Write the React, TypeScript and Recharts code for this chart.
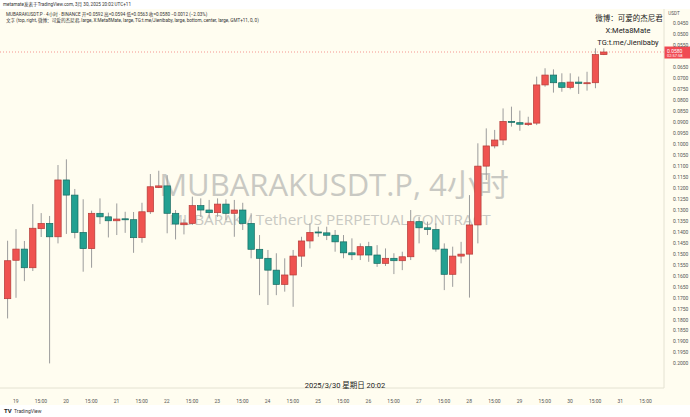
import React from 'react';
import { ComposedChart, Bar, XAxis, YAxis, ReferenceLine } from 'recharts';

// MUBARAKUSDT.P perpetual, 4h bars from 18 Mar 23:00 to 30 Mar 19:00 (UTC+11)
const opens = [
  0.1704, 0.1529, 0.1478, 0.1563, 0.1385, 0.1361, 0.1422, 0.1163, 0.1232, 0.1402,
  0.1476, 0.1315, 0.1331, 0.1349, 0.1340, 0.1344, 0.1426, 0.1308, 0.1198, 0.1190,
  0.1315, 0.1367, 0.1361, 0.1280, 0.1300, 0.1312, 0.1273, 0.1315, 0.1300, 0.1361,
  0.1479, 0.1520, 0.1574, 0.1639, 0.1596, 0.1510, 0.1441, 0.1400, 0.1404, 0.1415,
  0.1445, 0.1495, 0.1505, 0.1467, 0.1505, 0.1543, 0.1520, 0.1531, 0.1513, 0.1353,
  0.1381, 0.1389, 0.1478, 0.1593, 0.1510, 0.1501, 0.1368, 0.1100, 0.1008, 0.0981,
  0.0896, 0.0902, 0.0911, 0.0904, 0.0730, 0.0685, 0.0720, 0.0741, 0.0717, 0.0723,
  0.0720, 0.0592,
];
const highs = [
  0.1794, 0.1700, 0.1624, 0.1578, 0.1423, 0.1999, 0.1452, 0.1409, 0.1429, 0.1581,
  0.1563, 0.1364, 0.1425, 0.1414, 0.1404, 0.1495, 0.1449, 0.1318, 0.1200, 0.1406,
  0.1434, 0.1411, 0.1368, 0.1331, 0.1338, 0.1331, 0.1346, 0.1422, 0.1391, 0.1520,
  0.1688, 0.1733, 0.1688, 0.1672, 0.1741, 0.1559, 0.1475, 0.1422, 0.1437, 0.1490,
  0.1520, 0.1528, 0.1528, 0.1536, 0.1559, 0.1555, 0.1592, 0.1574, 0.1528, 0.1452,
  0.1414, 0.1490, 0.1665, 0.1650, 0.1543, 0.1699, 0.1452, 0.1163, 0.1019, 0.1004,
  0.0920, 0.0939, 0.0917, 0.0913, 0.0738, 0.0765, 0.0761, 0.0750, 0.0771, 0.0756,
  0.0745, 0.0594,
];
const lows = [
  0.1440, 0.1387, 0.1441, 0.1273, 0.1314, 0.1327, 0.1095, 0.1069, 0.1204, 0.1251,
  0.1303, 0.1247, 0.1312, 0.1270, 0.1308, 0.1309, 0.1267, 0.1136, 0.1121, 0.1141,
  0.1300, 0.1342, 0.1239, 0.1247, 0.1254, 0.1247, 0.1251, 0.1254, 0.1267, 0.1315,
  0.1414, 0.1482, 0.1497, 0.1520, 0.1482, 0.1422, 0.1361, 0.1376, 0.1376, 0.1391,
  0.1414, 0.1429, 0.1452, 0.1445, 0.1460, 0.1475, 0.1497, 0.1490, 0.1300, 0.1331,
  0.1353, 0.1361, 0.1452, 0.1467, 0.1445, 0.1232, 0.0996, 0.0928, 0.0935, 0.0837,
  0.0829, 0.0847, 0.0875, 0.0692, 0.0654, 0.0659, 0.0677, 0.0677, 0.0692, 0.0670,
  0.0563, 0.0563,
];
const closes = [
  0.1531, 0.1478, 0.1563, 0.1383, 0.1361, 0.1422, 0.1163, 0.1232, 0.1402, 0.1476,
  0.1315, 0.1331, 0.1349, 0.1341, 0.1344, 0.1426, 0.1308, 0.1194, 0.1190, 0.1315,
  0.1364, 0.1359, 0.1280, 0.1300, 0.1312, 0.1273, 0.1315, 0.1300, 0.1361, 0.1479,
  0.1520, 0.1574, 0.1639, 0.1596, 0.1510, 0.1441, 0.1402, 0.1404, 0.1415, 0.1445,
  0.1495, 0.1504, 0.1467, 0.1505, 0.1543, 0.1520, 0.1531, 0.1513, 0.1353, 0.1381,
  0.1389, 0.1478, 0.1593, 0.1510, 0.1501, 0.1368, 0.1100, 0.1008, 0.0981, 0.0896,
  0.0900, 0.0909, 0.0904, 0.0730, 0.0685, 0.0720, 0.0741, 0.0717, 0.0723, 0.0720,
  0.0592, 0.0580,
];

// time-axis labels: day labels sit on the 03:00 bar, then the 15:00 bar
const xTickLabels = [
  '19', '15:00', '20', '15:00', '21', '15:00', '22', '15:00', '23', '15:00',
  '24', '15:00', '25', '15:00', '26', '15:00', '27', '15:00', '28', '15:00',
  '29', '15:00', '30', '15:00', '31', '15:00',
];
const xTickBars = xTickLabels.map((_, k) => 1 + k * 3);

// price-scale labels (0.0600 sits under the last-price badge)
const yTicks = [
  0.045, 0.05, 0.055, 0.065, 0.07, 0.075, 0.08, 0.085, 0.09, 0.095, 0.1,
  0.105, 0.11, 0.115, 0.12, 0.125, 0.13, 0.135, 0.14, 0.145, 0.15, 0.155,
  0.16, 0.165, 0.17, 0.175, 0.18, 0.185, 0.19, 0.195, 0.2,
];

const rows = opens.map((o, i) => ({
  i,
  o,
  h: highs[i],
  l: lows[i],
  c: closes[i],
  range: [lows[i], highs[i]],
}));

const last = rows[rows.length - 1];
const prev = rows[rows.length - 2];
const chg = last.c - prev.c;

const UP = '#22a091';
const UP_EDGE = '#176a61';
const DOWN = '#ef5350';
const DOWN_EDGE = '#b43a37';
const WICK = '#9c9c9c';
const BG = '#fffdf0';
const FONT = "Roboto, 'Noto Sans CJK SC', sans-serif";

// candle drawn inside the [low, high] range bar; the price scale is inverted,
// so the low end sits at the top edge of the bar rectangle
const Candle = (props: any) => {
  const { x, y, width, height, payload } = props;
  if (x == null || y == null) return null;
  const top = Math.min(y, y + height);
  const bottom = Math.max(y, y + height);
  const span = payload.h - payload.l;
  const px = (v: number) => (span === 0 ? top : top + ((v - payload.l) / span) * (bottom - top));
  const yo = px(payload.o);
  const yc = px(payload.c);
  const bTop = Math.min(yo, yc);
  const bH = Math.max(Math.abs(yo - yc), 1);
  const up = payload.c >= payload.o;
  const cx = x + width / 2;
  return (
    <g>
      <line x1={cx} x2={cx} y1={top} y2={bottom} stroke={WICK} strokeWidth={1} />
      <rect
        x={x + 0.3}
        y={bTop}
        width={width - 0.6}
        height={bH}
        fill={up ? UP : DOWN}
        stroke={up ? UP_EDGE : DOWN_EDGE}
        strokeWidth={0.7}
      />
    </g>
  );
};

const PriceBadge = (props: any) => {
  const vb = props.viewBox;
  if (!vb) return null;
  const bx = vb.x + vb.width;
  const by = vb.y;
  return (
    <g>
      <rect x={bx} y={by - 5.5} width={26} height={12} fill="#f04a52" />
      <text x={bx + 3} y={by + 1} fontSize={5} fill="#fff" fontFamily={FONT}>
        {last.c.toFixed(4)}
      </text>
      <text x={bx + 3} y={by + 5.3} fontSize={4} fill="#fff" fontFamily={FONT}>
        02:57:58
      </text>
    </g>
  );
};

// visible price window of the plot area
const Y_TOP = 0.0384;
const Y_BOTTOM = 0.2111;

export default function App() {
  return (
    <div style={{ position: 'absolute', left: 0, top: 0, width: 690, height: 417, background: '#fff', overflow: 'hidden' }}>
      <svg width={690} height={417} style={{ position: 'absolute', left: 0, top: 0 }}>
        <rect x={0} y={9} width={690} height={396} fill={BG} />
        <text x={334} y={196} textAnchor="middle" fontSize={31} fill="#c9c9c3" fontFamily="'Open Sans', 'Noto Sans CJK SC', sans-serif">
          MUBARAKUSDT.P, 4小时
        </text>
        <text x={330} y={225} textAnchor="middle" fontSize={15.3} fill="#c9c9c3" fontFamily="'Open Sans', sans-serif">
          MUBARAK / TetherUS PERPETUAL CONTRACT
        </text>
      </svg>
      <div style={{ position: 'absolute', left: 0, top: 9 }}>
        <ComposedChart width={690} height={396} data={rows} margin={{ top: 0, right: 0, bottom: 0, left: 0 }}>
          <XAxis
            dataKey="i"
            type="number"
            domain={[-0.87, 78.2]}
            allowDataOverflow
            ticks={xTickBars}
            interval={0}
            tickFormatter={(v: number) => xTickLabels[(v - 1) / 3] ?? ''}
            height={17}
            tickLine={false}
            tickMargin={5}
            axisLine={{ stroke: '#e4e2d2' }}
            tick={{ fontSize: 5, fill: '#555', fontFamily: FONT }}
          />
          <YAxis
            orientation="right"
            reversed
            domain={[Y_TOP, Y_BOTTOM]}
            allowDataOverflow
            ticks={yTicks}
            interval={0}
            tickFormatter={(v: number) => v.toFixed(4)}
            width={26}
            tickLine={false}
            tickMargin={3}
            axisLine={{ stroke: '#e4e2d2' }}
            tick={{ fontSize: 5, fill: '#555', fontFamily: FONT }}
          />
          <Bar dataKey="range" barSize={7} shape={Candle} isAnimationActive={false} />
          <ReferenceLine
            y={last.c}
            stroke="#ef5350"
            strokeWidth={0.6}
            strokeDasharray="1 2"
            label={<PriceBadge />}
          />
        </ComposedChart>
      </div>
      <svg width={690} height={417} style={{ position: 'absolute', left: 0, top: 0, pointerEvents: 'none' }}>
        <text x={3} y={6} fontSize={4.6} fill="#333" fontFamily={FONT}>
          metamate发表于TradingView.com, 3月 30, 2025 20:02 UTC+11
        </text>
        <text x={6} y={16} fontSize={4.6} fill="#333" fontFamily={FONT}>
          {`MUBARAKUSDT.P · 4小时 · BINANCE  开=${last.o.toFixed(4)} 高=${last.h.toFixed(4)} 低=${last.l.toFixed(4)} 收=${last.c.toFixed(4)} ${chg < 0 ? '−' : '+'}${Math.abs(chg).toFixed(4)} (${chg < 0 ? '−' : '+'}${Math.abs((chg / prev.c) * 100).toFixed(2)}%)`}
        </text>
        <text x={6} y={22} fontSize={4.6} fill="#333" fontFamily={FONT}>
          文字 (top, right, 微博：可爱的杰尼君, large, X:Meta8Mate, large, TG:t.me/Jienibaby, large, bottom, center, large, GMT+11, 0, 0)
        </text>
        <text x={629} y={21} textAnchor="middle" fontSize={7.5} fill="#222" fontFamily={FONT}>
          微博：可爱的杰尼君
        </text>
        <text x={628} y={33} textAnchor="middle" fontSize={7.5} fill="#222" fontFamily={FONT}>
          X:Meta8Mate
        </text>
        <text x={628} y={45} textAnchor="middle" fontSize={7.5} fill="#222" fontFamily={FONT}>
          TG:t.me/Jienibaby
        </text>
        <text x={345} y={388} textAnchor="middle" fontSize={7.5} fill="#222" fontFamily={FONT}>
          2025/3/30 星期日 20:02
        </text>
        <text x={674} y={15} textAnchor="middle" fontSize={4.6} fill="#555" fontFamily={FONT}>
          USDT
        </text>
        <text x={4} y={413} fontSize={6} fontWeight="bold" fill="#222" fontFamily={FONT}>
          TV
        </text>
        <text x={14} y={413} fontSize={5} fill="#333" fontFamily={FONT}>
          TradingView
        </text>
      </svg>
    </div>
  );
}
